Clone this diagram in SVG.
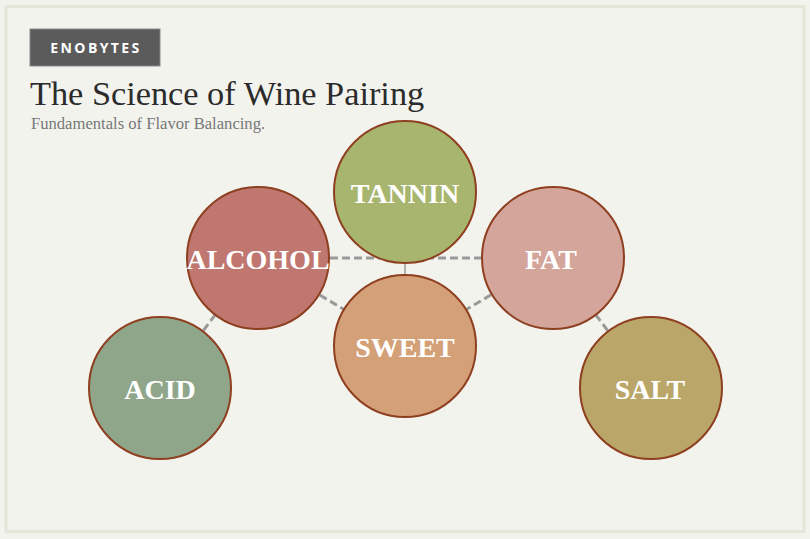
<svg xmlns="http://www.w3.org/2000/svg" width="810" height="539" viewBox="0 0 810 539">
<style>
.node circle{stroke:#8e3f20;stroke-width:2}
.node text{font-family:"Liberation Serif",serif;font-weight:bold;font-size:28px;fill:#ffffff;text-anchor:middle}
.dash{stroke:#9a9a9a;stroke-width:3;stroke-dasharray:8 4;fill:none}
.solid{stroke:#9a9a9a;stroke-width:1.5;fill:none}
</style>
<rect x="0" y="0" width="810" height="539" fill="#f3f3ee"/>
<rect x="6" y="6.5" width="798" height="525" fill="none" stroke="#e5e5d9" stroke-width="3"/>
<g id="header">
<rect x="30" y="29" width="130" height="37" fill="#5b5b5b" stroke="#8a8a8a" stroke-width="1"/>
<text x="96" y="52.5" font-family="'Open Sans','Liberation Sans',sans-serif" font-weight="bold" font-size="14" letter-spacing="2.4" fill="#ffffff" text-anchor="middle">ENOBYTES</text>
<text x="30" y="105" font-family="'Liberation Serif',serif" font-size="34.3" fill="#2b2b2b">The Science of Wine Pairing</text>
<text x="31" y="129" font-family="'Liberation Serif',serif" font-size="16.6" fill="#777777">Fundamentals of Flavor Balancing.</text>
</g>
<g id="connectors">
<line class="dash" x1="258" y1="258" x2="553" y2="258"/>
<line class="solid" x1="405" y1="192" x2="405" y2="346"/>
<line class="dash" x1="258" y1="258" x2="405" y2="346"/>
<line class="dash" x1="553" y1="258" x2="405" y2="346"/>
<line class="dash" x1="160" y1="388" x2="258" y2="258"/>
<line class="dash" x1="651" y1="388" x2="553" y2="258"/>
</g>
<g id="tannin" class="node"><circle cx="405" cy="192" r="71" fill="#a8b56e"/><text x="405" y="203">TANNIN</text></g>
<g id="alcohol" class="node"><circle cx="258" cy="258" r="71" fill="#bf776f"/><text x="258" y="269">ALCOHOL</text></g>
<g id="fat" class="node"><circle cx="553" cy="258" r="71" fill="#d4a59a"/><text x="551" y="269">FAT</text></g>
<g id="sweet" class="node"><circle cx="405" cy="346" r="71" fill="#d4a077"/><text x="405" y="357">SWEET</text></g>
<g id="acid" class="node"><circle cx="160" cy="388" r="71" fill="#8fa68a"/><text x="160" y="399">ACID</text></g>
<g id="salt" class="node"><circle cx="651" cy="388" r="71" fill="#baa668"/><text x="650" y="399">SALT</text></g>
</svg>
